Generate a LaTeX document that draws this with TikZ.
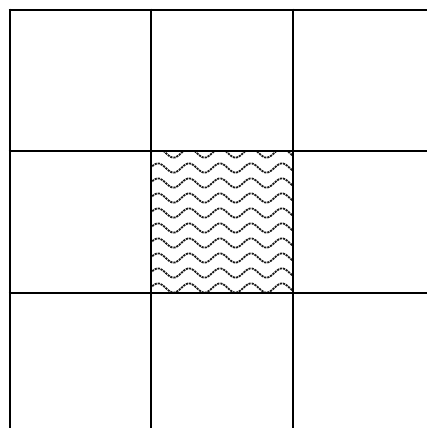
\documentclass[tikz,border=0pt]{standalone}
\begin{document}
\begin{tikzpicture}[x=1pt,y=-1pt,
  gridline/.style={line width=2.6pt,black},
  waveline/.style={line width=1.8pt,black!90,line join=round,dash pattern=on 2.2pt off 0.9pt}]
\useasboundingbox (0,0) rectangle (427,428);
\fill[white] (0,0) rectangle (427,428);
% hatched middle cell
\begin{scope}
  \clip (151,151) rectangle (293,293);
  \foreach \k in {0,...,9}{
    \draw[waveline] plot[domain=145:300,samples=120,smooth]
      (\x,{153+15*\k-4.6*cos(11.6129*(\x-158))});
  }
\end{scope}
% grid
\foreach \gx in {10,151,293}
  \draw[gridline] (\gx,8.7) -- (\gx,430);
\foreach \gy in {10,151,293}
  \draw[gridline] (8.7,\gy) -- (430,\gy);
\end{tikzpicture}
\end{document}
